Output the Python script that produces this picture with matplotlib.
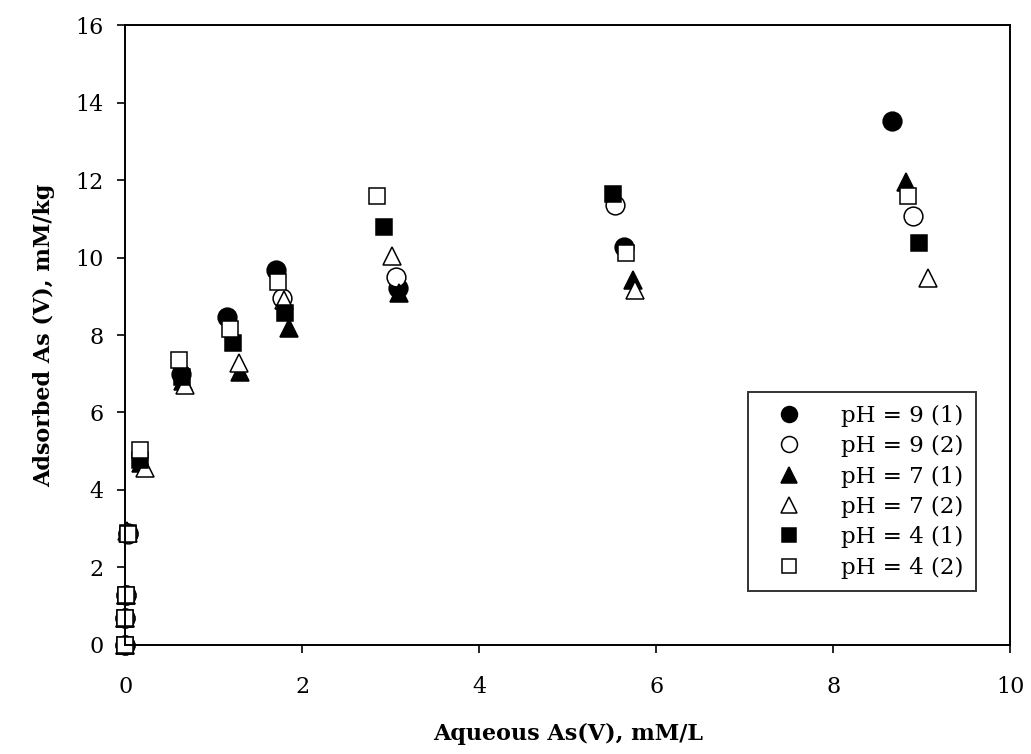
import matplotlib
matplotlib.use("Agg")
import matplotlib.pyplot as plt

# Aqueous As(V) (mM/L) and adsorbed As(V) (mM/kg) for each run
ph9_1_x = [0.00, 0.00, 0.01, 0.03, 0.63, 1.15, 1.70, 3.08, 5.63, 8.66]
ph9_1_y = [0.00, 0.70, 1.30, 2.90, 7.00, 8.47, 9.68, 9.21, 10.26, 13.53]

ph9_2_x = [0.00, 0.00, 0.01, 0.03, 1.77, 3.06, 5.53, 8.90]
ph9_2_y = [0.00, 0.70, 1.30, 2.86, 8.95, 9.49, 11.35, 11.08]

ph7_1_x = [0.00, 0.00, 0.01, 0.03, 0.18, 0.65, 1.29, 1.85, 3.09, 5.73, 8.82]
ph7_1_y = [0.00, 0.70, 1.30, 2.90, 4.70, 6.80, 7.05, 8.17, 9.08, 9.42, 11.96]

ph7_2_x = [0.00, 0.00, 0.01, 0.02, 0.22, 0.67, 1.28, 1.79, 3.01, 5.76, 9.07]
ph7_2_y = [0.00, 0.70, 1.30, 2.95, 4.57, 6.72, 7.27, 8.90, 10.04, 9.16, 9.48]

ph4_1_x = [0.00, 0.00, 0.01, 0.03, 0.16, 0.64, 1.21, 1.80, 2.92, 5.51, 8.97]
ph4_1_y = [0.00, 0.70, 1.30, 2.90, 4.77, 6.92, 7.80, 8.56, 10.79, 11.64, 10.37]

ph4_2_x = [0.00, 0.00, 0.01, 0.03, 0.16, 0.60, 1.18, 1.72, 2.84, 5.66, 8.84]
ph4_2_y = [0.00, 0.70, 1.30, 2.86, 5.03, 7.35, 8.15, 9.38, 11.59, 10.11, 11.59]

labels = ["pH = 9 (1)", "pH = 9 (2)", "pH = 7 (1)", "pH = 7 (2)", "pH = 4 (1)", "pH = 4 (2)"]
x_ticks = [0, 2, 4, 6, 8, 10]
y_ticks = [0, 2, 4, 6, 8, 10, 12, 14, 16]

plt.rcParams["font.family"] = ["DejaVu Serif"]

fig = plt.figure(figsize=(10.31, 7.54), dpi=100)
ax = fig.add_axes([0.1217, 0.1446, 0.8583, 0.8222])

series = [
    (ph9_1_x, ph9_1_y, "o", "black", 13.5),
    (ph9_2_x, ph9_2_y, "o", "white", 13.5),
    (ph7_1_x, ph7_1_y, "^", "black", 13.0),
    (ph7_2_x, ph7_2_y, "^", "white", 13.0),
    (ph4_1_x, ph4_1_y, "s", "black", 12.0),
    (ph4_2_x, ph4_2_y, "s", "white", 12.0),
]

for (xs, ys, m, fc, ms), lab in zip(series, labels):
    ax.plot(xs, ys, linestyle="none", marker=m, markersize=ms,
            markerfacecolor=fc, markeredgecolor="black",
            markeredgewidth=1.1, label=lab, clip_on=False)

ax.set_xlim(0, 10)
ax.set_ylim(0, 16)
ax.set_xticks(x_ticks)
ax.set_yticks(y_ticks)
ax.tick_params(axis="both", direction="out", length=6, width=1.2,
               labelsize=16)
ax.tick_params(axis="x", pad=16)
ax.tick_params(axis="y", pad=10)
for sp in ax.spines.values():
    sp.set_linewidth(1.4)

ax.set_xlabel("Aqueous As(V), mM/L", fontsize=16, fontweight="bold", labelpad=18)
ax.set_ylabel("Adsorbed As (V), mM/kg", fontsize=16, fontweight="bold", labelpad=14)

leg = ax.legend(loc="lower right", bbox_to_anchor=(0.974, 0.068),
                frameon=True, fancybox=False, edgecolor="black",
                fontsize=16.5, handlelength=2.5, handletextpad=1.0,
                borderpad=0.55, labelspacing=0.36, markerscale=0.85)
leg.get_frame().set_linewidth(1.4)

fig.savefig("out.png", dpi=100)
